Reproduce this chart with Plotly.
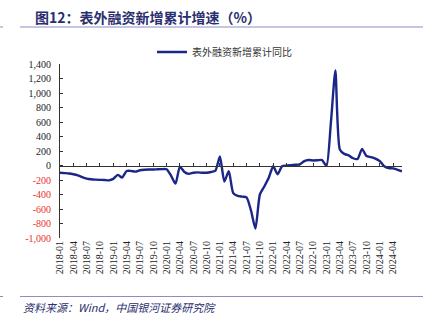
import plotly.graph_objects as go

months = [f"{y}-{m:02d}" for y in range(2018, 2025) for m in range(1, 13)][:78]
values = [
    -100, -105, -110, -120, -135, -160, -180, -190, -195, -198, -200, -205,
    -185, -130, -165, -75, -75, -85, -65, -58, -55, -55, -52, -50,
    -52, -140, -250, -15, -90, -115, -100, -95, -100, -100, -90, -70,
    125, -220, -80, -380, -420, -430, -440, -620, -870, -400, -290, -170,
    -10, -120, -10, 0, 5, 10, 15, 60, 75, 70, 72, 75,
    -5, 600, 1310, 220, 160, 140, 100, 90, 230, 130, 115, 95,
    60, -10, -35, -40, -60, -80,
]
series_name = "表外融资新增累计同比"
title_text = "图12：表外融资新增累计增速（%）"
source_text = "资料来源：Wind，中国银河证券研究院"
y_ticks = list(range(-1000, 1401, 200))

W, H = 430, 323
L, R, T, B = 60, 28, 64, 85
pw, ph = W - L - R, H - T - B
def px2x(X):
    return (X - L) / pw
def px2y(Y):
    return 1 - (Y - T) / ph

NAVY = "#1a2688"
AXC = "#333333"
RULE = "#8e8bc9"
TXT = "#2a2e6e"
NEG = "#e8332e"

tick_idx = list(range(0, len(months), 3))
tick_txt = [months[i] for i in tick_idx]
y_txt = [(f"<span style='color:{NEG}'>{v:,}</span>" if v < 0 else f"{v:,}") for v in y_ticks]

fig = go.Figure()
fig.add_trace(go.Scatter(
    x=list(range(len(months))), y=values, mode="lines", name=series_name,
    line=dict(color=NAVY, width=2.4, shape="spline", smoothing=0.6),
    xaxis="x", yaxis="y",
))
fig.add_trace(go.Scatter(
    x=list(range(len(months))), y=values, mode="lines", showlegend=False,
    line=dict(color="rgba(0,0,0,0)", width=0), hoverinfo="skip",
    xaxis="x2", yaxis="y",
))

xr = [0, len(months) - 1]
fig.update_layout(
    width=W, height=H,
    margin=dict(l=L, r=R, t=T, b=B, pad=0, autoexpand=False),
    paper_bgcolor="white", plot_bgcolor="white",
    showlegend=True,
    legend=dict(orientation="h", xref="container", yref="container",
                x=152 / W, y=1 - 52 / H, xanchor="left", yanchor="middle",
                font=dict(family="Noto Sans CJK SC", size=10, color="#333333"),
                bgcolor="rgba(0,0,0,0)"),
    xaxis=dict(
        range=xr, tickmode="array", tickvals=tick_idx, ticktext=tick_txt,
        tickangle=-90, showgrid=False, zeroline=False, showline=False,
        ticks="", tickfont=dict(family="Liberation Serif", size=10, color="#222"),
    ),
    xaxis2=dict(
        range=xr, overlaying="x", anchor="free", position=1000 / 2400,
        tickmode="array", tickvals=tick_idx, showticklabels=False,
        ticks="inside", ticklen=3, tickcolor=AXC, showline=True,
        linecolor=AXC, linewidth=1, showgrid=False, zeroline=False,
    ),
    yaxis=dict(
        range=[-1000, 1400], tickmode="array", tickvals=y_ticks, ticktext=y_txt,
        showgrid=False, zeroline=False, showline=True, linecolor=AXC,
        linewidth=1, ticks="inside", ticklen=3, tickcolor=AXC,
        ticklabelstandoff=6,
        tickfont=dict(family="Liberation Serif", size=10, color="#222"),
    ),
    annotations=[
        dict(text=f"<b>{title_text}</b>", xref="paper", yref="paper",
             x=px2x(33), y=px2y(17), xanchor="left", yanchor="middle",
             showarrow=False,
             font=dict(family="Noto Sans CJK SC", size=14, color=TXT)),
        dict(text=f"<i>{source_text}</i>", xref="paper", yref="paper",
             x=px2x(21), y=px2y(307), xanchor="left", yanchor="middle",
             showarrow=False,
             font=dict(family="Noto Sans CJK SC", size=11, color=TXT)),
    ],
    shapes=[
        dict(type="line", xref="paper", yref="paper", x0=px2x(20), x1=px2x(423),
             y0=px2y(27), y1=px2y(27), line=dict(color=RULE, width=1)),
        dict(type="line", xref="paper", yref="paper", x0=px2x(0), x1=px2x(3),
             y0=px2y(27), y1=px2y(27), line=dict(color=RULE, width=1)),
        dict(type="line", xref="paper", yref="paper", x0=px2x(20), x1=px2x(423),
             y0=px2y(296.5), y1=px2y(296.5), line=dict(color=RULE, width=1)),
        dict(type="line", xref="paper", yref="paper", x0=px2x(0), x1=px2x(3),
             y0=px2y(296.5), y1=px2y(296.5), line=dict(color=RULE, width=1)),
    ],
)

fig.write_html("out.html")
